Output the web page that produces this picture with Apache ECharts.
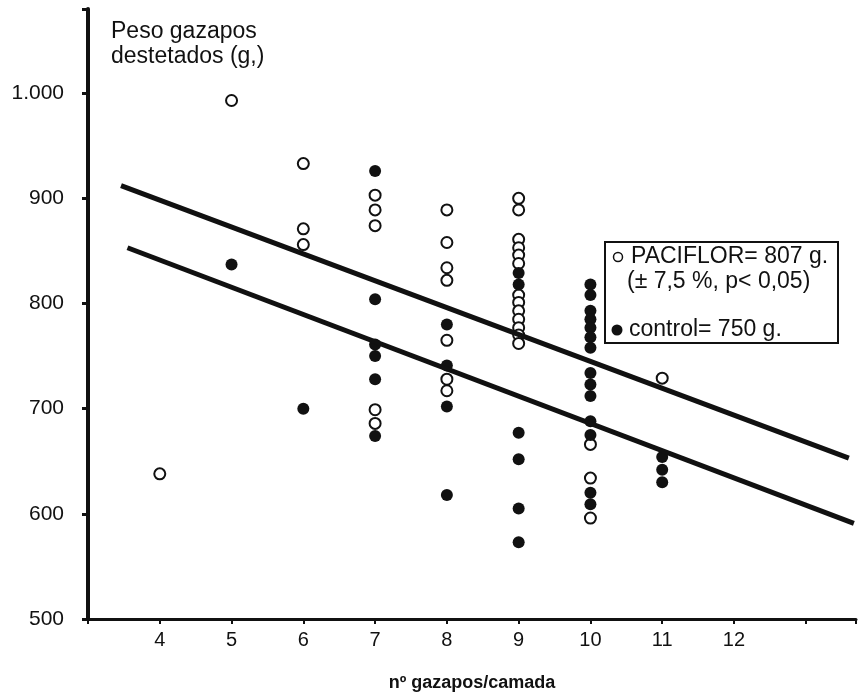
<!DOCTYPE html>
<html>
<head>
<meta charset="utf-8">
<title>Peso gazapos destetados</title>
<script src="https://cdn.jsdelivr.net/npm/echarts@6/dist/echarts.min.js"></script>
<style>
  html, body { margin: 0; padding: 0; background: #fff; }
  #chart { width: 859px; height: 697px; }
</style>
</head>
<body>
<div id="chart"></div>
<script>
// nº gazapos/camada -> peso (g)
var pacifloroPoints = [
  [4, 638],
  [5, 993],
  [6, 933], [6, 871], [6, 856],
  [7, 903], [7, 889], [7, 874], [7, 699], [7, 686],
  [8, 889], [8, 858], [8, 834], [8, 822], [8, 765], [8, 728], [8, 717],
  [9, 900], [9, 889], [9, 861], [9, 853], [9, 846], [9, 838], [9, 808],
  [9, 801], [9, 793], [9, 785], [9, 777], [9, 770], [9, 762],
  [10, 666], [10, 634], [10, 596],
  [11, 729]
]
var controlPoints = [
  [5, 837],
  [6, 700],
  [7, 926], [7, 804], [7, 761], [7, 750], [7, 728], [7, 674],
  [8, 780], [8, 741], [8, 702], [8, 618],
  [9, 829], [9, 818], [9, 677], [9, 652], [9, 605], [9, 573],
  [10, 818], [10, 808], [10, 793], [10, 785], [10, 777], [10, 768], [10, 758],
  [10, 734], [10, 723], [10, 712], [10, 688], [10, 675], [10, 620], [10, 609],
  [11, 654], [11, 642], [11, 630]
]
// regression lines (end points)
var pacifloroLine = [[3.46, 912], [13.6, 653]]
var controlLine = [[3.55, 853], [13.67, 591]]

var xTicks = [4, 5, 6, 7, 8, 9, 10, 11, 12]
var yTicks = [500, 600, 700, 800, 900, 1000]

var ink = '#111'
var font = 'Liberation Sans, Arial, sans-serif'

var chart = echarts.init(document.getElementById('chart'))
chart.setOption({
  animation: false,
  backgroundColor: '#fff',
  grid: { left: 88, right: 1, top: 9, bottom: 66 },
  xAxis: {
    type: 'value',
    min: 3,
    max: 13.7,
    interval: 1,
    splitLine: { show: false },
    axisLine: { lineStyle: { color: ink, width: 3 } },
    axisTick: { length: 5, lineStyle: { color: ink, width: 2 } },
    axisLabel: {
      margin: 11,
      color: ink,
      fontFamily: font,
      fontSize: 20,
      formatter: function (v) {
        return xTicks.indexOf(v) >= 0 ? String(v) : ''
      },
    },
    name: 'nº gazapos/camada',
    nameLocation: 'middle',
    nameGap: 55,
    nameTextStyle: { color: ink, fontFamily: font, fontSize: 18, fontWeight: 'bold' },
  },
  yAxis: {
    type: 'value',
    min: 500,
    max: 1080,
    interval: 100,
    splitLine: { show: false },
    axisLine: { lineStyle: { color: ink, width: 4 } },
    axisTick: { length: 6, lineStyle: { color: ink, width: 3 } },
    axisLabel: {
      margin: 24,
      color: ink,
      fontFamily: font,
      fontSize: 21,
      formatter: function (v) {
        if (yTicks.indexOf(v) < 0) return ''
        return v >= 1000 ? '1.000' : String(v)
      },
    },
  },
  graphic: [
    {
      type: 'text',
      left: 111,
      top: 19,
      style: {
        text: 'Peso gazapos\ndestetados (g,)',
        fill: ink,
        font: '23px ' + font,
        lineHeight: 25,
      },
    },
    {
      type: 'rect',
      shape: { x: 605, y: 242, width: 233, height: 101 },
      style: { fill: '#fff', stroke: ink, lineWidth: 2 },
      z: 10,
    },
    {
      type: 'circle',
      shape: { cx: 618, cy: 257, r: 4.5 },
      style: { fill: '#fff', stroke: ink, lineWidth: 1.5 },
      z: 11,
    },
    {
      type: 'circle',
      shape: { cx: 617, cy: 330, r: 5.5 },
      style: { fill: ink },
      z: 11,
    },
    {
      type: 'text',
      x: 631,
      y: 257,
      style: { text: 'PACIFLOR= 807 g.', fill: ink, font: '23px ' + font, textVerticalAlign: 'middle' },
      z: 11,
    },
    {
      type: 'text',
      x: 627,
      y: 282,
      style: { text: '(± 7,5 %, p< 0,05)', fill: ink, font: '23px ' + font, textVerticalAlign: 'middle' },
      z: 11,
    },
    {
      type: 'text',
      x: 629,
      y: 330,
      style: { text: 'control= 750 g.', fill: ink, font: '23px ' + font, textVerticalAlign: 'middle' },
      z: 11,
    },
  ],
  series: [
    {
      name: 'PACIFLOR',
      type: 'scatter',
      data: pacifloroPoints,
      symbol: 'circle',
      symbolSize: 11,
      itemStyle: { color: '#fff', borderColor: ink, borderWidth: 2, opacity: 1 },
      z: 2,
    },
    {
      name: 'control',
      type: 'scatter',
      data: controlPoints,
      symbol: 'circle',
      symbolSize: 12,
      itemStyle: { color: ink, opacity: 1 },
      z: 3,
    },
    {
      name: 'PACIFLOR recta',
      type: 'line',
      data: pacifloroLine,
      symbol: 'none',
      lineStyle: { color: ink, width: 5 },
      z: 4,
    },
    {
      name: 'control recta',
      type: 'line',
      data: controlLine,
      symbol: 'none',
      lineStyle: { color: ink, width: 5 },
      z: 4,
    },
  ],
})
</script>
</body>
</html>
